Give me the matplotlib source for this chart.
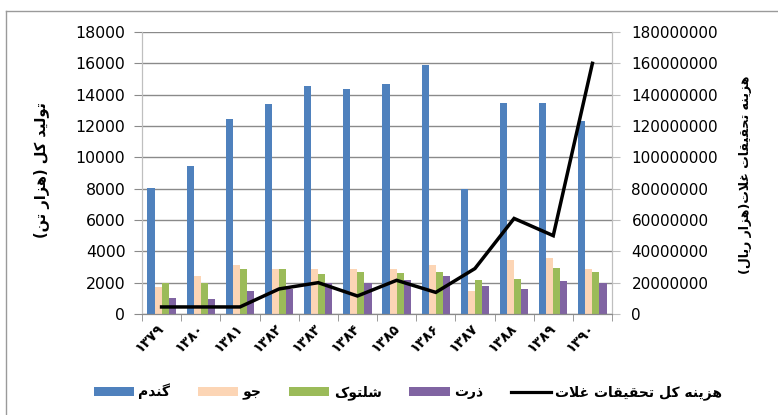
import matplotlib
matplotlib.use('Agg')
import re
import matplotlib.pyplot as plt
import numpy as np
from matplotlib.patches import Patch
from matplotlib.lines import Line2D

# ---------------- data ----------------
years = ['۱۳۷۹', '۱۳۸۰', '۱۳۸۱', '۱۳۸۲', '۱۳۸۳', '۱۳۸۴',
         '۱۳۸۵', '۱۳۸۶', '۱۳۸۷', '۱۳۸۸', '۱۳۸۹', '۱۳۹۰']
wheat = [8050, 9450, 12450, 13400, 14550, 14350, 14700, 15900, 7950, 13450, 13450, 12300]
barley = [1700, 2400, 3100, 2850, 2900, 2850, 2900, 3100, 1500, 3450, 3600, 2850]
paddy = [2000, 2000, 2850, 2900, 2550, 2700, 2600, 2650, 2200, 2250, 2950, 2700]
maize = [1050, 970, 1450, 1600, 1950, 2000, 2200, 2400, 1800, 1600, 2130, 1980]
cost = [4.5e6, 4.5e6, 4.5e6, 16e6, 20e6, 11.5e6, 21.5e6, 13.8e6, 29e6, 61e6, 50e6, 160e6]

series_names = ['گندم', 'جو', 'شلتوک', 'ذرت']
line_name = 'هزینه کل تحقیقات غلات'
left_label = 'تولید کل (هزار تن)'
right_label = 'هزینه تحقیقات غلات(هزار ریال)'

left_ticks = list(range(0, 18001, 2000))
right_ticks = list(range(0, 180000001, 20000000))

# ------------- simple Arabic/Persian shaping -------------
FORMS = {
    '\u0627': ('\uFE8D', '\uFE8E', None, None),
    '\u062A': ('\uFE95', '\uFE96', '\uFE97', '\uFE98'),
    '\u062C': ('\uFE9D', '\uFE9E', '\uFE9F', '\uFEA0'),
    '\u062D': ('\uFEA1', '\uFEA2', '\uFEA3', '\uFEA4'),
    '\u062F': ('\uFEA9', '\uFEAA', None, None),
    '\u0630': ('\uFEAB', '\uFEAC', None, None),
    '\u0631': ('\uFEAD', '\uFEAE', None, None),
    '\u0632': ('\uFEAF', '\uFEB0', None, None),
    '\u0634': ('\uFEB5', '\uFEB6', '\uFEB7', '\uFEB8'),
    '\u063A': ('\uFECD', '\uFECE', '\uFECF', '\uFED0'),
    '\u0642': ('\uFED5', '\uFED6', '\uFED7', '\uFED8'),
    '\u0644': ('\uFEDD', '\uFEDE', '\uFEDF', '\uFEE0'),
    '\u0645': ('\uFEE1', '\uFEE2', '\uFEE3', '\uFEE4'),
    '\u0646': ('\uFEE5', '\uFEE6', '\uFEE7', '\uFEE8'),
    '\u0647': ('\uFEE9', '\uFEEA', '\uFEEB', '\uFEEC'),
    '\u0648': ('\uFEED', '\uFEEE', None, None),
    '\u06CC': ('\uFBFC', '\uFBFD', '\uFBFE', '\uFBFF'),
    '\u06A9': ('\uFB8E', '\uFB8F', '\uFB90', '\uFB91'),
    '\u06AF': ('\uFB92', '\uFB93', '\uFB94', '\uFB95'),
}


def shape(s):
    n = len(s)
    res = []
    i = 0
    while i < n:
        c = s[i]
        if c in FORMS:
            prev = s[i - 1] if i > 0 else None
            conn_prev = prev is not None and prev in FORMS and FORMS[prev][2] is not None
            if c == '\u0644' and i + 1 < n and s[i + 1] == '\u0627':
                res.append('\uFEFC' if conn_prev else '\uFEFB')
                i += 2
                continue
            nxt = s[i + 1] if i + 1 < n else None
            conn_next = FORMS[c][2] is not None and nxt is not None and nxt in FORMS
            iso, fin, ini, med = FORMS[c]
            if conn_prev and conn_next:
                res.append(med)
            elif conn_prev:
                res.append(fin)
            elif conn_next:
                res.append(ini)
            else:
                res.append(iso)
        else:
            res.append(c)
        i += 1
    shaped = ''.join(res)
    tokens = re.findall(r'[0-9A-Za-z\u06F0-\u06F9]+|.', shaped)
    tokens.reverse()
    swap = {'(': ')', ')': '('}
    return ''.join(swap.get(t, t) for t in tokens)


plt.rcParams['font.family'] = ['DejaVu Sans']

W, H = 778, 415
fig = plt.figure(figsize=(W / 100, H / 100), dpi=100)
ax = fig.add_axes([142 / W, 1 - 314 / H, (612 - 142) / W, (314 - 32) / H])
ax2 = ax.twinx()

x = np.arange(len(years))
bw = 0.18
colors = ['#4F81BD', '#FCD5B5', '#9BBB59', '#8064A2']
for k, (vals, col) in enumerate(zip([wheat, barley, paddy, maize], colors)):
    ax.bar(x + (k - 1.5) * bw, vals, width=bw, color=col, zorder=2)

ax2.plot(x, cost, color='black', lw=2.5, zorder=3, solid_joinstyle='miter')

ax.set_xlim(-0.5, len(years) - 0.5)
ax.set_ylim(0, 18000)
ax2.set_ylim(0, 180000000)
ax.set_yticks(left_ticks)
ax2.set_yticks(right_ticks)
ax.set_yticklabels([str(v) for v in left_ticks], fontsize=11.3)
ax2.set_yticklabels([str(v) for v in right_ticks], fontsize=11)

ax.yaxis.grid(True, color='#8a8a8a', lw=1.0, zorder=0)
ax.set_axisbelow(True)

ax.set_xticks(x)
ax.set_xticklabels(years, rotation=45, ha='right', va='center',
                   rotation_mode='anchor', fontsize=10, fontweight='bold')
ax.set_xticks(np.arange(-0.5, len(years), 1.0), minor=True)
ax.tick_params(axis='x', which='major', length=0, pad=9)
ax.tick_params(axis='x', which='minor', length=5, color='#8a8a8a', direction='out')
ax.tick_params(axis='y', length=6, color='#8a8a8a', pad=6)
ax2.tick_params(axis='y', length=6, color='#bfbfbf', pad=8)

for a in (ax, ax2):
    a.spines['top'].set_visible(False)
    a.spines['left'].set_color('#bfbfbf')
    a.spines['right'].set_color('#bfbfbf')
    a.spines['bottom'].set_color('#8a8a8a')

fig.text(42 / W, 1 - 170 / H, shape(left_label), rotation=90, ha='center', va='center',
         fontsize=10.5, fontweight='bold')
fig.text(746 / W, 1 - 175 / H, shape(right_label), rotation=90, ha='center', va='center',
         fontsize=9, fontweight='bold')

handles = [Patch(facecolor=c, edgecolor='none') for c in colors]
handles.append(Line2D([0], [0], color='black', lw=2.3))
labels = [shape(s) for s in series_names] + [shape(line_name)]
fig.legend(handles, labels, loc='center', bbox_to_anchor=(408 / W, 1 - 392 / H),
           ncol=5, frameon=False, handlelength=2.9, handleheight=0.6,
           handletextpad=0.3, columnspacing=2.0,
           prop={'size': 10, 'weight': 'bold'})

# outer chart frame
fig.add_artist(Line2D([6 / W, 1.0], [1 - 11 / H, 1 - 11 / H], transform=fig.transFigure,
                      color='#9a9a9a', lw=1.0))
fig.add_artist(Line2D([6 / W, 6 / W], [0, 1 - 11 / H], transform=fig.transFigure,
                      color='#9a9a9a', lw=1.0))

fig.savefig('out.png', dpi=100)
